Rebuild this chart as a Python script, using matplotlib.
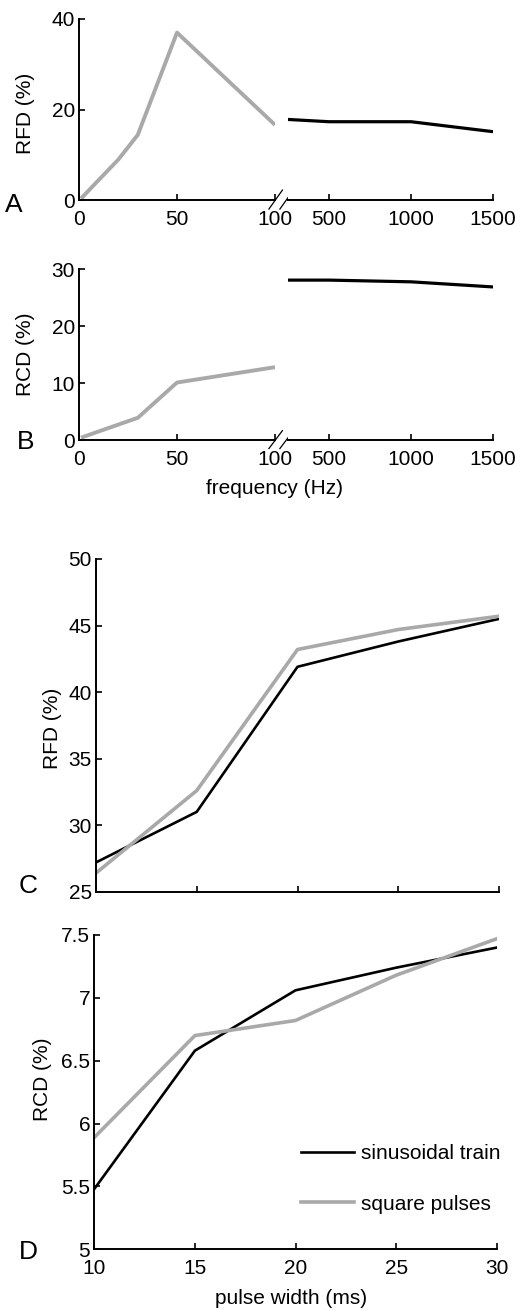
import numpy as np
import matplotlib
matplotlib.use("Agg")
import matplotlib.pyplot as plt
from matplotlib.ticker import FormatStrFormatter
from matplotlib.lines import Line2D

plt.rcParams['font.family'] = ['Liberation Sans', 'DejaVu Sans']

# ---- data ----
# panels A/B : frequency sweep (low range = square pulses, high range = sinusoidal train)
freq_low = [1, 10, 20, 30, 50, 100]
rfd_low = [0.3, 4.4, 8.9, 14.4, 37.0, 16.6]
rcd_low = [0.4, 1.5, 2.7, 3.9, 10.1, 12.8]

freq_high = [250, 500, 1000, 1500]
rfd_high = [17.8, 17.3, 17.3, 15.1]
rcd_high = [28.1, 28.1, 27.8, 26.9]

# panels C/D : pulse width sweep
pulse_width = [10, 15, 20, 25, 30]
rfd_sin = [27.2, 31.0, 41.9, 43.8, 45.5]
rfd_sq = [26.4, 32.6, 43.2, 44.7, 45.7]
rcd_sin = [5.48, 6.58, 7.06, 7.24, 7.40]
rcd_sq = [5.89, 6.70, 6.82, 7.18, 7.47]

GRAY = '#a9a9a9'
FS = 15
W, H = 523, 1311


def px_box(x0, x1, ytop, ybot):
    # pixel box -> figure fraction rect
    return [x0 / W, 1 - ybot / H, (x1 - x0) / W, (ybot - ytop) / H]


def style(ax, left=True):
    for s in ['top', 'right']:
        ax.spines[s].set_visible(False)
    if not left:
        ax.spines['left'].set_visible(False)
        ax.tick_params(axis='y', left=False, labelleft=False)
    for s in ['left', 'bottom']:
        ax.spines[s].set_linewidth(1.4)
    ax.tick_params(direction='in', length=4, width=1.2, labelsize=FS)
    ax.tick_params(axis='x', pad=7)
    ax.tick_params(axis='y', pad=3)


def break_marks(ax):
    for dx in (0.0, 0.056):
        ax.add_line(Line2D([0.969 + dx, 1.038 + dx], [-0.05, 0.055],
                           transform=ax.transAxes, color='k', lw=0.9, clip_on=False))


fig = plt.figure(figsize=(W / 100, H / 100), dpi=100)

# ---- A ----
axA1 = fig.add_axes(px_box(79, 275, 19, 200))
axA2 = fig.add_axes(px_box(288, 493, 19, 200))
axA1.plot(freq_low, rfd_low, color=GRAY, lw=2.8, solid_capstyle='butt')
axA2.plot(freq_high, rfd_high, color='k', lw=2.3, solid_capstyle='butt')
for a in (axA1, axA2):
    a.set_ylim(0, 40)
axA1.set_xlim(0, 100)
axA2.set_xlim(250, 1500)
axA1.set_xticks([0, 50, 100])
axA2.set_xticks([500, 1000, 1500])
axA1.set_yticks([0, 20, 40])
style(axA1)
style(axA2, left=False)
break_marks(axA1)
axA1.set_ylabel('RFD (%)', fontsize=FS)
axA1.yaxis.set_label_coords(-0.275, 0.48)
axA1.yaxis.label.set_va('center')
fig.text(14 / W, 1 - 205 / H, 'A', fontsize=19, ha='center', va='center')

# ---- B ----
axB1 = fig.add_axes(px_box(79, 275, 269.3, 440))
axB2 = fig.add_axes(px_box(288, 493, 269.3, 440))
axB1.plot(freq_low, rcd_low, color=GRAY, lw=2.8, solid_capstyle='butt')
axB2.plot(freq_high, rcd_high, color='k', lw=2.3, solid_capstyle='butt')
for a in (axB1, axB2):
    a.set_ylim(0, 30)
axB1.set_xlim(0, 100)
axB2.set_xlim(250, 1500)
axB1.set_xticks([0, 50, 100])
axB2.set_xticks([500, 1000, 1500])
axB1.set_yticks([0, 10, 20, 30])
style(axB1)
style(axB2, left=False)
break_marks(axB1)
axB1.set_ylabel('RCD (%)', fontsize=FS)
axB1.yaxis.set_label_coords(-0.275, 0.5)
axB1.yaxis.label.set_va('center')
fig.text(26 / W, 1 - 442 / H, 'B', fontsize=19, ha='center', va='center')
fig.text(275 / W, 1 - 488 / H, 'frequency (Hz)', fontsize=FS, ha='center', va='center')

# ---- C ----
axC = fig.add_axes(px_box(96, 499, 559, 891.7))
axC.plot(pulse_width, rfd_sin, color='k', lw=1.9)
axC.plot(pulse_width, rfd_sq, color=GRAY, lw=2.6)
axC.set_xlim(10, 30)
axC.set_ylim(25, 50)
axC.set_xticks([10, 15, 20, 25, 30])
axC.set_yticks([25, 30, 35, 40, 45, 50])
style(axC)
axC.tick_params(axis='x', labelbottom=False)
axC.set_ylabel('RFD (%)', fontsize=FS)
axC.yaxis.set_label_coords(-0.109, 0.49)
axC.yaxis.label.set_va('center')
fig.text(28 / W, 1 - 886 / H, 'C', fontsize=19, ha='center', va='center')

# ---- D ----
axD = fig.add_axes(px_box(94.3, 496.7, 935, 1249.3))
axD.plot(pulse_width, rcd_sin, color='k', lw=1.9, label='sinusoidal train')
axD.plot(pulse_width, rcd_sq, color=GRAY, lw=2.6, label='square pulses')
axD.set_xlim(10, 30)
axD.set_ylim(5, 7.5)
axD.set_xticks([10, 15, 20, 25, 30])
axD.set_yticks([5, 5.5, 6, 6.5, 7, 7.5])
axD.yaxis.set_major_formatter(FormatStrFormatter('%g'))
style(axD)
axD.set_ylabel('RCD (%)', fontsize=FS)
axD.yaxis.set_label_coords(-0.128, 0.54)
axD.yaxis.label.set_va('center')
axD.set_xlabel('pulse width (ms)', fontsize=FS)
axD.xaxis.set_label_coords(0.49, -0.155)
axD.xaxis.label.set_va('center')
axD.legend(loc='lower right', bbox_to_anchor=(1.03, 0.087), borderaxespad=0,
           frameon=False, fontsize=FS, handlelength=2.55, handletextpad=0.35,
           labelspacing=1.5)
fig.text(28 / W, 1 - 1252 / H, 'D', fontsize=19, ha='center', va='center')

fig.savefig('out.png', dpi=100)
